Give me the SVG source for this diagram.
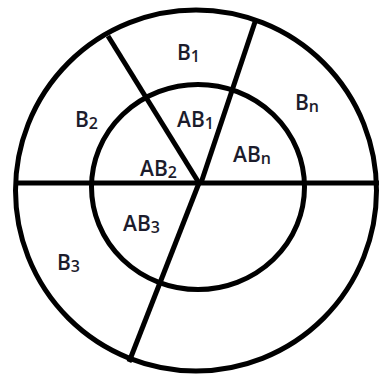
<svg xmlns="http://www.w3.org/2000/svg" width="379" height="377" viewBox="0 0 379 377">
<style>
.s{fill:none;stroke:#000;stroke-width:5;stroke-linecap:butt}
.t{font-family:"Open Sans","Liberation Sans",sans-serif;font-size:21px;font-weight:600;fill:#1c1c2c}
.sub{font-size:16px}
</style>
<rect width="379" height="377" fill="#fff"/>
<g id="circles">
<ellipse class="s" cx="196" cy="190.5" rx="180.5" ry="180.5"/>
<ellipse class="s" cx="198" cy="187" rx="106.5" ry="102.5"/>
</g>
<g id="lines">
<line class="s" x1="17" y1="183" x2="379" y2="183" stroke-width="6"/>
<line class="s" x1="108" y1="36" x2="199" y2="183"/>
<line class="s" x1="255" y1="22" x2="201" y2="183"/>
<line class="s" x1="199" y1="183" x2="129" y2="362"/>
</g>
<g id="labels">
<text class="t" x="177" y="60">B<tspan class="sub" dy="2">1</tspan></text>
<text class="t" x="75" y="127">B<tspan class="sub" dy="2">2</tspan></text>
<text class="t" x="295" y="110">B<tspan class="sub" dy="2">n</tspan></text>
<text class="t" x="177" y="127">AB<tspan class="sub" dy="2">1</tspan></text>
<text class="t" x="233" y="162">AB<tspan class="sub" dy="2">n</tspan></text>
<text class="t" x="140" y="176">AB<tspan class="sub" dy="2">2</tspan></text>
<text class="t" x="123" y="231">AB<tspan class="sub" dy="2">3</tspan></text>
<text class="t" x="57" y="270">B<tspan class="sub" dy="2">3</tspan></text>
</g>
</svg>
